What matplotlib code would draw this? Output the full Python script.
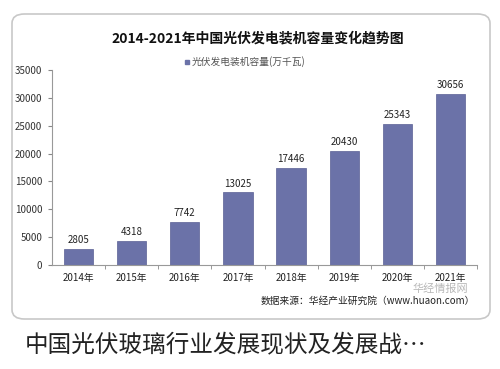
import matplotlib.pyplot as plt
from matplotlib.patches import FancyBboxPatch, Rectangle

plt.rcParams['font.family'] = ['Noto Sans CJK SC', 'DejaVu Sans']

years = ['2014年', '2015年', '2016年', '2017年', '2018年', '2019年', '2020年', '2021年']
capacity = [2805, 4318, 7742, 13025, 17446, 20430, 25343, 30656]
yticks = [0, 5000, 10000, 15000, 20000, 25000, 30000, 35000]

title = '2014-2021年中国光伏发电装机容量变化趋势图'
legend_label = '光伏发电装机容量(万千瓦)'
source = '数据来源：华经产业研究院（www.huaon.com）'
caption = '中国光伏玻璃行业发展现状及发展战…'

W, H = 500, 369
fig = plt.figure(figsize=(W / 100, H / 100), dpi=100)
fig.patch.set_facecolor('white')

# card border, kept behind the axes
card = FancyBboxPatch((12 / W, 1 - 319 / H), 478 / W, 305 / H,
                      boxstyle='round,pad=0,rounding_size=0.025',
                      transform=fig.transFigure, facecolor='white',
                      edgecolor='#c8c8c8', lw=1.2, zorder=-5)
fig.patches.append(card)

ax = fig.add_axes([52 / W, 1 - 265 / H, 425 / W, 195 / H])
ax.patch.set_alpha(0)
bar_color = '#6b72a8'
x = range(len(years))
ax.bar(x, capacity, width=0.55, color=bar_color, edgecolor='#5a6094', lw=0.5)
for i, v in enumerate(capacity):
    ax.text(i, v + 700, str(v), ha='center', va='bottom', fontsize=7, color='#222222')

ax.set_ylim(0, 35000)
ax.set_xlim(-0.5, len(years) - 0.5)
ax.set_yticks(yticks)
ax.set_yticklabels([str(t) for t in yticks], fontsize=7, color='#333333')
ax.set_xticks(list(x))
ax.set_xticklabels(years, fontsize=7, color='#222222')
ax.tick_params(axis='x', length=0, pad=6)
ax.set_xticks([i + 0.5 for i in range(len(years))], minor=True)
ax.tick_params(axis='x', which='minor', length=3, color='#888888')
ax.tick_params(axis='y', length=3, color='#888888', pad=4)
for s in ['top', 'right']:
    ax.spines[s].set_visible(False)
ax.spines['left'].set_color('#999999')
ax.spines['bottom'].set_color('#999999')

fig.text(258 / W, 1 - 38 / H, title, ha='center', va='center', fontsize=10,
         fontweight='bold', color='#111111')
fig.patches.append(Rectangle((185 / W, 1 - 64 / H), 4 / W, 4 / H,
                             transform=fig.transFigure, color=bar_color))
fig.text(192 / W, 1 - 62 / H, legend_label, ha='left', va='center', fontsize=7,
         color='#555555')

# watermark
fig.text(440 / W, 1 - 289 / H, '华经情报网', ha='center', va='center', fontsize=8,
         color='#9a9a9a', alpha=0.7)
fig.text(475 / W, 1 - 301 / H, source, ha='right', va='center', fontsize=7,
         color='#222222')

fig.text(25 / W, 1 - 345 / H, caption, ha='left', va='center', fontsize=17,
         color='#222222')

fig.savefig('out.png', dpi=100)
